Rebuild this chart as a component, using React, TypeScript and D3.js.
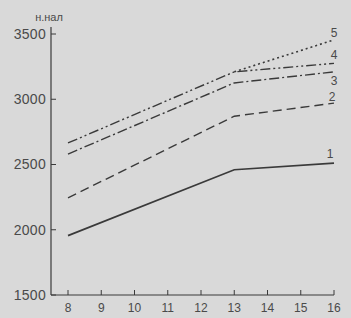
import React from "react";
import * as d3 from "d3";

const years = [8, 9, 10, 11, 12, 13, 14, 15, 16];
const yTicks = [1500, 2000, 2500, 3000, 3500];
const seriesNames = ["1", "2", "3", "4", "5"];
const s1 = [{ x: 8, y: 1955 }, { x: 13, y: 2460 }, { x: 16, y: 2510 }];
const s2 = [{ x: 8, y: 2245 }, { x: 13, y: 2870 }, { x: 16, y: 2970 }];
const s3 = [{ x: 8, y: 2580 }, { x: 13, y: 3125 }, { x: 16, y: 3210 }];
const s4 = [{ x: 8, y: 2665 }, { x: 13, y: 3210 }, { x: 16, y: 3275 }];
const s5 = [{ x: 13, y: 3210 }, { x: 16, y: 3455 }];
const unitLabel = "н.нал";

const W = 351, H = 318;
const ink = "#3a3a3a";

export default function App() {
  const x = d3.scaleLinear().domain([8, 16]).range([68, 334]);
  const y = d3.scaleLinear().domain([1500, 3500]).range([295, 34]);
  const line = d3.line<{ x: number; y: number }>().x(d => x(d.x)).y(d => y(d.y));
  const series = [
    { data: s1, dash: "none", w: 1.7 },
    { data: s2, dash: "9 5", w: 1.4 },
    { data: s3, dash: "10 3 2 3", w: 1.4 },
    { data: s4, dash: "10 3 2 3 2 3", w: 1.4 },
    { data: s5, dash: "2 3", w: 1.6 },
  ];
  const labelPos = [
    { x: 330, y: 154 },
    { x: 332, y: 97 },
    { x: 334, y: 81 },
    { x: 334, y: 55 },
    { x: 334, y: 33 },
  ];
  const font = "'Liberation Sans', Arial, sans-serif";
  return (
    <svg width={W} height={H} style={{ position: "absolute", left: 0, top: 0, background: "#d9d9d9" }}>
      <rect width={W} height={H} fill="#d9d9d9" />
      <line x1={51} x2={51} y1={27} y2={295} stroke={ink} strokeWidth={1.2} />
      <line x1={51} x2={334} y1={295} y2={295} stroke={ink} strokeWidth={1.2} />
      {yTicks.map(t => (
        <g key={t}>
          <line x1={51} x2={56} y1={y(t)} y2={y(t)} stroke={ink} strokeWidth={1} />
          <text x={46} y={y(t)} dy="0.35em" textAnchor="end" fontFamily={font} fontSize={14} letterSpacing={0.3} fill="#4a4a4a">{t}</text>
        </g>
      ))}
      {years.map(t => (
        <g key={t}>
          <line x1={x(t)} x2={x(t)} y1={295} y2={290} stroke={ink} strokeWidth={1} />
          <text x={x(t)} y={308} dy="0.35em" textAnchor="middle" fontFamily={font} fontSize={12} fill="#4a4a4a">{t}</text>
        </g>
      ))}
      <text x={49} y={17} dy="0.35em" textAnchor="middle" fontFamily={font} fontSize={11} fill="#4a4a4a">{unitLabel}</text>
      {series.map((s, i) => (
        <path key={i} d={line(s.data) || ""} fill="none" stroke={ink} strokeWidth={s.w} strokeDasharray={s.dash} />
      ))}
      {seriesNames.map((n, i) => (
        <text key={n} x={labelPos[i].x} y={labelPos[i].y} dy="0.35em" textAnchor="middle" fontFamily={font} fontSize={12} fill="#4a4a4a">{n}</text>
      ))}
    </svg>
  );
}
